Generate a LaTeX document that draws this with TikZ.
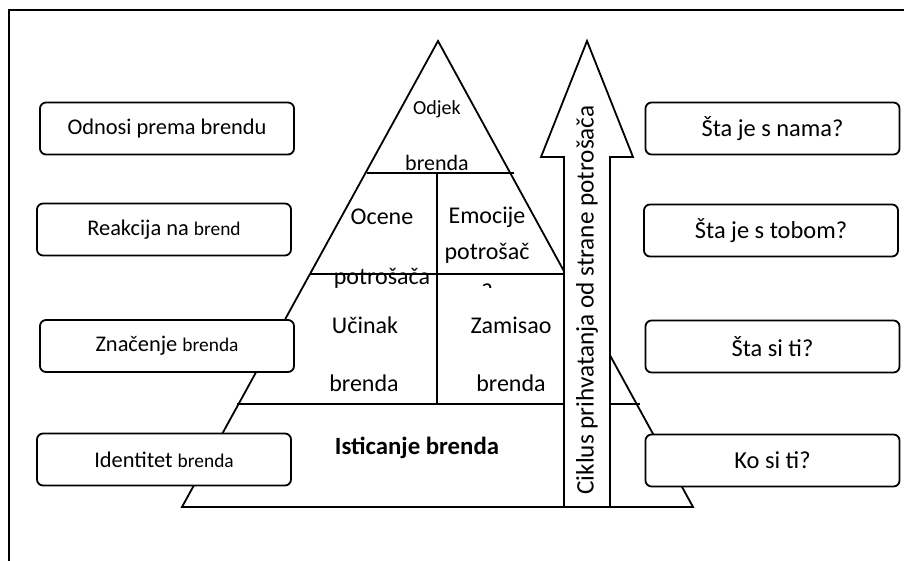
\documentclass[tikz,border=0pt]{standalone}
\usepackage{fontspec}
\setmainfont{Carlito}
\usetikzlibrary{positioning}

\newcommand{\brsmall}[1]{{\fontsize{9.7}{11}\selectfont #1}}

\begin{document}
\begin{tikzpicture}[
    x=0.5pt, y=-0.5pt,
    line width=0.9pt,
    qbox/.style={draw, fill=white, rounded corners=3pt, minimum width=127pt, minimum height=26pt, inner sep=0pt, font=\fontsize{#1}{14}\selectfont},
    qbox/.default=11.2,
    lvl/.style={inner sep=0pt, font=\fontsize{#1}{14}\selectfont},
    lvl/.default=12
]
\useasboundingbox (0,0) rectangle (904,561);

% frame
\draw (9,561) -- (9,10) -- (904,10);

% pyramid
\coordinate (apex) at (438,41);
\coordinate (bl) at (182,507);
\coordinate (br) at (693,507);
\draw[fill=white] (apex) -- (br) -- (bl) -- cycle;
\draw (367,173) -- (514,173);
\draw (310,274) -- (566,274);
\draw (237,404) -- (640,404);
\draw (437,173) -- (437,404);

% levels
\node[lvl=10] (odjek) at (437,109) {Odjek};
\node[lvl=11] (odjek2) at (437,163) {brenda};
\node[lvl] (ocene) at (382,217) {Ocene};
\node[lvl] (ocene2) at (382,278) {potrošača};
\node[lvl] (emo) at (487,217) {Emocije};
\node[lvl] (emo2) at (487,253) {potrošač};
\begin{scope}
\clip (440,276) rectangle (560,287);
\node[lvl] (emo3) at (487,290) {a};
\end{scope}
\node[lvl] (ucinak) at (365,325) {Učinak};
\node[lvl] (ucinak2) at (364,383) {brenda};
\node[lvl] (zamisao) at (511,325) {Zamisao};
\node[lvl] (zamisao2) at (511,383) {brenda};
\node[lvl=12.4] (istic) at (417,448) {\bfseries Isticanje brenda};

% arrow
\draw[fill=white] (564,507) -- (564,157) -- (541,157) -- (587,41) -- (633,157) -- (610,157) -- (610,507) -- cycle;
\node[lvl=12.6, rotate=90] (ciklus) at (587,300) {Ciklus prihvatanja od strane potrošača};

% left boxes
\node[qbox] (l1) at (167,128.5) {Odnosi prema brendu};
\node[qbox] (l2) at (164,229.5) {Reakcija na \brsmall{brend}};
\node[qbox] (l3) at (167,346) {Značenje \brsmall{brenda}};
\node[qbox] (l4) at (164,459.5) {Identitet \brsmall{brenda}};

% right boxes
\node[qbox=12.2] (r1) at (772.5,128.5) {Šta je s nama?};
\node[qbox=12.2] (r2) at (771,230.5) {Šta je s tobom?};
\node[qbox=12.2] (r3) at (772.5,346.5) {Šta si ti?};
\node[qbox=12.2] (r4) at (772.5,460.5) {Ko si ti?};

\end{tikzpicture}
\end{document}
